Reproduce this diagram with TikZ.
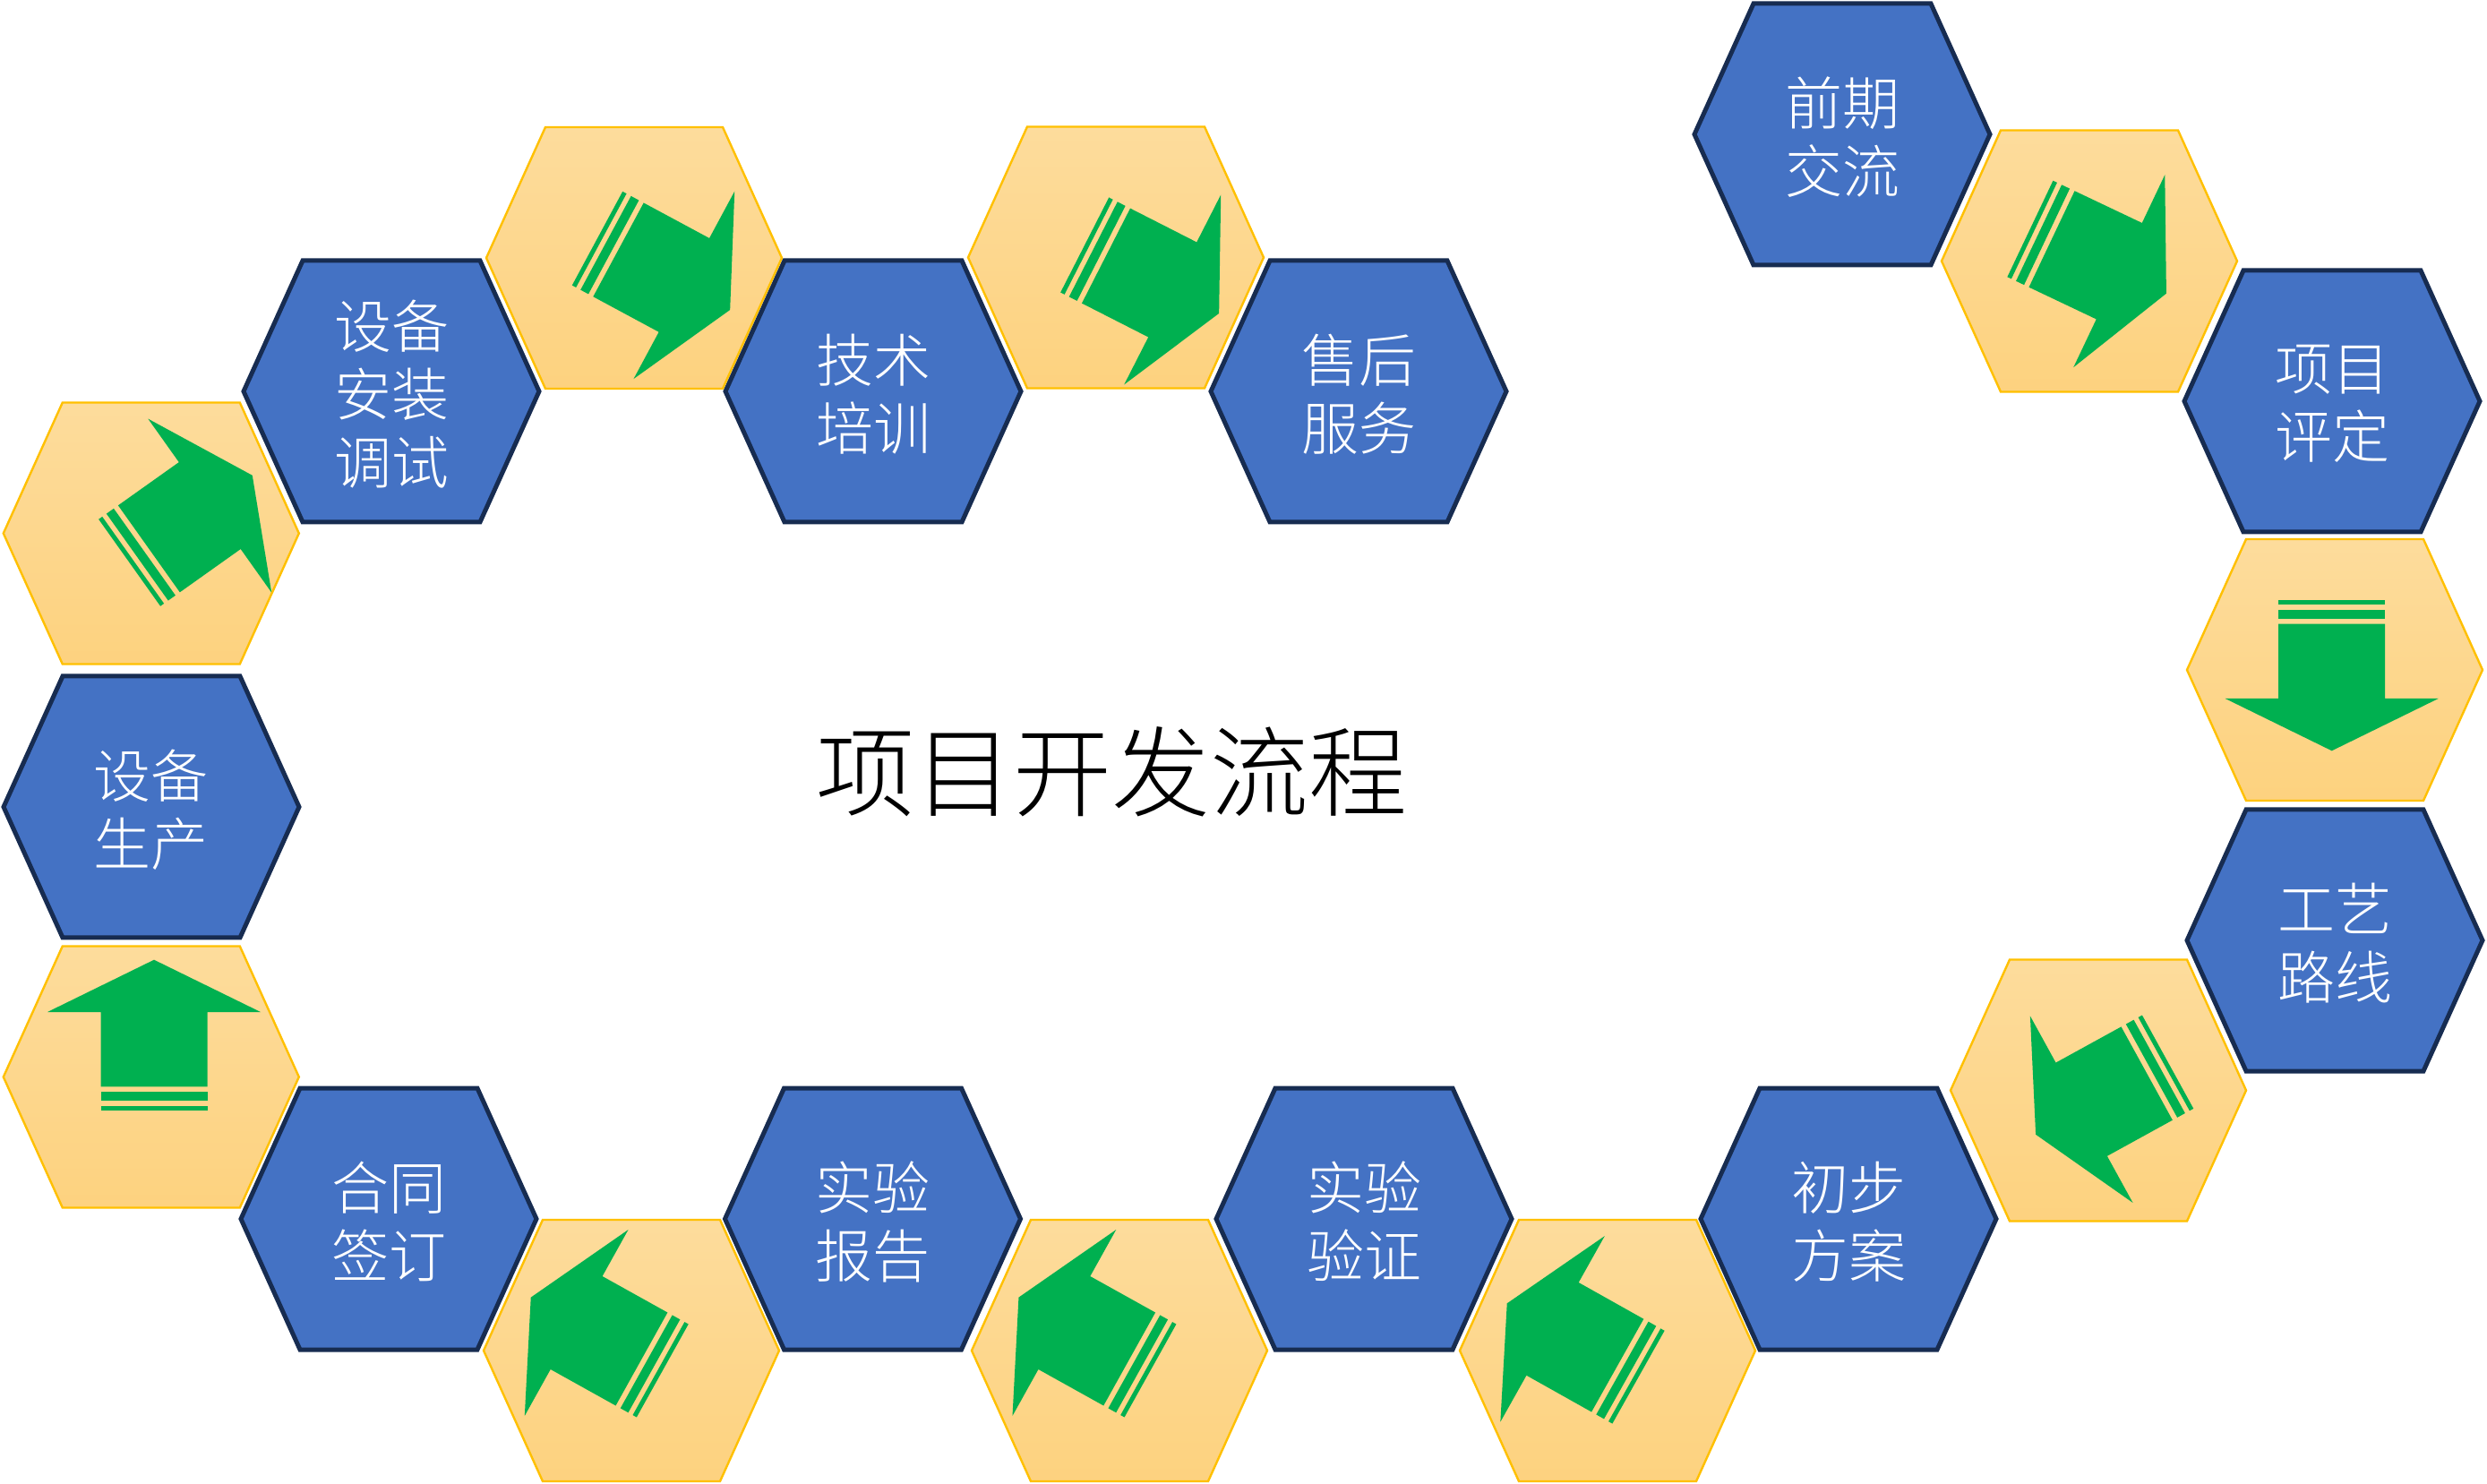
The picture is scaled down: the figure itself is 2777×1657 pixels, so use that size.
\documentclass[tikz,border=0pt]{standalone}
\usepackage{fontspec}
\newfontfamily\cjk{Noto Sans CJK SC}[UprightFont={* Light}]
\definecolor{hexblue}{HTML}{4472C4}
\definecolor{hexnavy}{HTML}{172C51}
\definecolor{hexyelA}{HTML}{FDDC9C}
\definecolor{hexyelB}{HTML}{FDD27F}
\definecolor{hexyelline}{HTML}{FFC000}
\definecolor{arrgreen}{HTML}{00B050}
\tikzset{
  bluehex/.style={fill=hexblue, draw=hexnavy, line width=1.25pt, line join=miter},
  yelhex/.style={top color=hexyelA, bottom color=hexyelB, draw=hexyelline, line width=0.6pt},
  hexlabel/.style={text=white, font=\cjk\fontsize{16}{19}\selectfont, align=center, inner sep=0pt},
  titlelabel/.style={text=black, font=\cjk\fontsize{27.5}{33}\selectfont, inner sep=0pt},
  arrowfill/.style={fill=arrgreen},
}
\newcommand\hexoutline{(-165,0) -- (-99,-146) -- (99,-146) -- (165,0) -- (99,146) -- (-99,146) -- cycle}
\newcommand\bluehexat[3]{%
  \draw[bluehex, shift={#2}] \hexoutline;
  \node[hexlabel, yshift=-0.75pt] (#1) at #2 {#3};}
\newcommand\yelhexat[4]{%
  \draw[yelhex, shift={#2}] \hexoutline;
  \coordinate (#1) at #2;
  \begin{scope}[shift={#3}, rotate=#4]
    \fill[arrowfill] (0,-59.5) rectangle (5,59.5);
    \fill[arrowfill] (10.7,-59.5) rectangle (20.7,59.5);
    \fill[arrowfill] (26.7,-59.5) -- (110,-59.5) -- (110,-119) -- (168.3,0)
      -- (110,119) -- (110,59.5) -- (26.7,59.5) -- cycle;
  \end{scope}}
\begin{document}
\begin{tikzpicture}[x=0.25pt, y=-0.25pt]
  \useasboundingbox (0,0) rectangle (2777,1657);
  \fill[white] (0,0) rectangle (2777,1657);

  % yellow hexagons with arrows
  \yelhexat{y1}{(2333,291.5)}{(2266.9,255.5)}{-25.4}
  \yelhexat{y2}{(2607,748)}{(2603.7,670)}{-90}
  \yelhexat{y3}{(2343,1217.5)}{(2420.6,1185.7)}{-151.2}
  \yelhexat{y4}{(1795,1508)}{(1829.5,1537.7)}{150.7}
  \yelhexat{y5}{(1250,1508)}{(1284.5,1530.5)}{150.9}
  \yelhexat{y6}{(705,1508)}{(739.8,1530.5)}{150.9}
  \yelhexat{y7}{(168.8,1202.5)}{(172,1240)}{90}
  \yelhexat{y8}{(168.8,595.5)}{(144.6,628.3)}{35.4}
  \yelhexat{y9}{(708,288)}{(667,266.2)}{-28.3}
  \yelhexat{y10}{(1246,287.5)}{(1211.2,273.5)}{-27}

  % blue hexagons
  \bluehexat{qq}{(2057,150)}{前期\\交流}
  \bluehexat{xm}{(2604,448)}{项目\\评定}
  \bluehexat{gy}{(2607,1050)}{工艺\\路线}
  \bluehexat{cb}{(2064,1361)}{初步\\方案}
  \bluehexat{yz}{(1523,1361)}{实验\\验证}
  \bluehexat{bg}{(974.5,1361)}{实验\\报告}
  \bluehexat{ht}{(434,1361)}{合同\\签订}
  \bluehexat{sc}{(169,901)}{设备\\生产}
  \bluehexat{az}{(437,437)}{设备\\安装\\调试}
  \bluehexat{px}{(975,437)}{技术\\培训}
  \bluehexat{sh}{(1517,437)}{售后\\服务}

  % title
  \node[titlelabel] (title) at (1241,862) {项目开发流程};
\end{tikzpicture}
\end{document}
